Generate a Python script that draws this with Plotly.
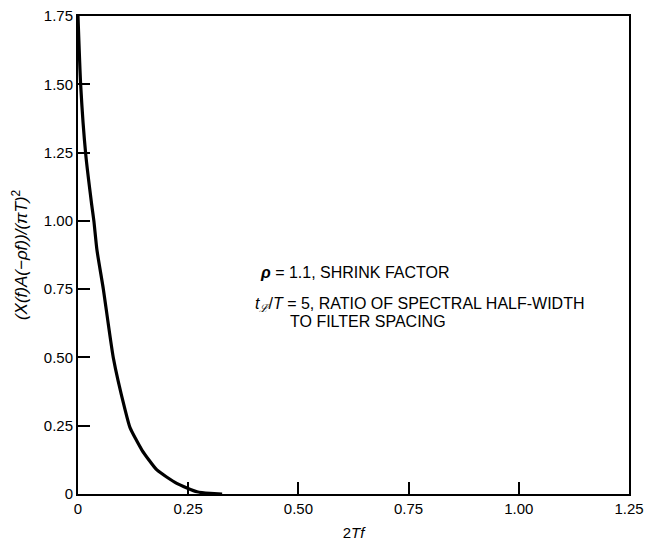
import plotly.graph_objects as go

# Curve
x_vals = [0.0, 0.006, 0.0175, 0.031, 0.036, 0.043, 0.0575, 0.080, 0.107, 0.118, 0.145, 0.179, 0.224, 0.270, 0.300, 0.327]
y_vals = [1.75, 1.50, 1.244, 1.06, 1.00, 0.893, 0.75, 0.50, 0.307, 0.243, 0.161, 0.088, 0.039, 0.008, 0.002, 0.0]

x_ticks = [0, 0.25, 0.50, 0.75, 1.00, 1.25]
x_ticklabels = ["0", "0.25", "0.50", "0.75", "1.00", "1.25"]
y_ticks = [0, 0.25, 0.50, 0.75, 1.00, 1.25, 1.50, 1.75]
y_ticklabels = ["0", "0.25", "0.50", "0.75", "1.00", "1.25", "1.50", "1.75"]

FONT = "Liberation Sans, Arial, sans-serif"

fig = go.Figure()
fig.add_trace(go.Scatter(x=x_vals, y=y_vals, mode="lines",
                         line=dict(color="black", width=3.2, shape="spline", smoothing=0.5),
                         showlegend=False, hoverinfo="skip"))

axis_common = dict(showline=True, linecolor="black", linewidth=2, mirror=True,
                   ticks="inside", ticklen=12, tickwidth=1.5, tickcolor="black",
                   showgrid=False, zeroline=False,
                   tickfont=dict(family=FONT, size=15, color="black"))

fig.update_xaxes(range=[0, 1.25], tickvals=x_ticks, ticktext=x_ticklabels,
                 title=dict(text="2<i>Tf</i>", font=dict(family=FONT, size=15, color="black"), standoff=12),
                 **axis_common)
fig.update_yaxes(range=[0, 1.75], tickvals=y_ticks, ticktext=y_ticklabels,
                 title=dict(text="<i>(X(f)A(−ρf))/(πT)</i><sup>2</sup>",
                            font=dict(family=FONT, size=17, color="black"), standoff=12),
                 **axis_common)

ann_font = dict(family=FONT, size=16, color="black")
fig.add_annotation(x=0.409, y=0.812, xref="x", yref="y", xanchor="left", yanchor="middle",
                   text="<b><i>ρ</i></b> = 1.1, SHRINK FACTOR", showarrow=False, font=ann_font)
fig.add_annotation(x=0.398, y=0.692, xref="x", yref="y", xanchor="left", yanchor="middle",
                   text="<i>t</i><sub><i>ℒ</i></sub>/<i>T</i> = 5, RATIO OF SPECTRAL HALF-WIDTH",
                   showarrow=False, font=ann_font)
fig.add_annotation(x=0.477, y=0.633, xref="x", yref="y", xanchor="left", yanchor="middle",
                   text="TO FILTER SPACING", showarrow=False, font=ann_font)

fig.update_layout(width=645, height=541, margin=dict(l=78, r=16, t=16, b=47, autoexpand=False),
                  paper_bgcolor="white", plot_bgcolor="white",
                  font=dict(family=FONT, color="black"))

fig.write_html("out.html", config={"displayModeBar": False},
               post_script="document.body.style.margin='0';document.body.style.overflow='hidden';")
